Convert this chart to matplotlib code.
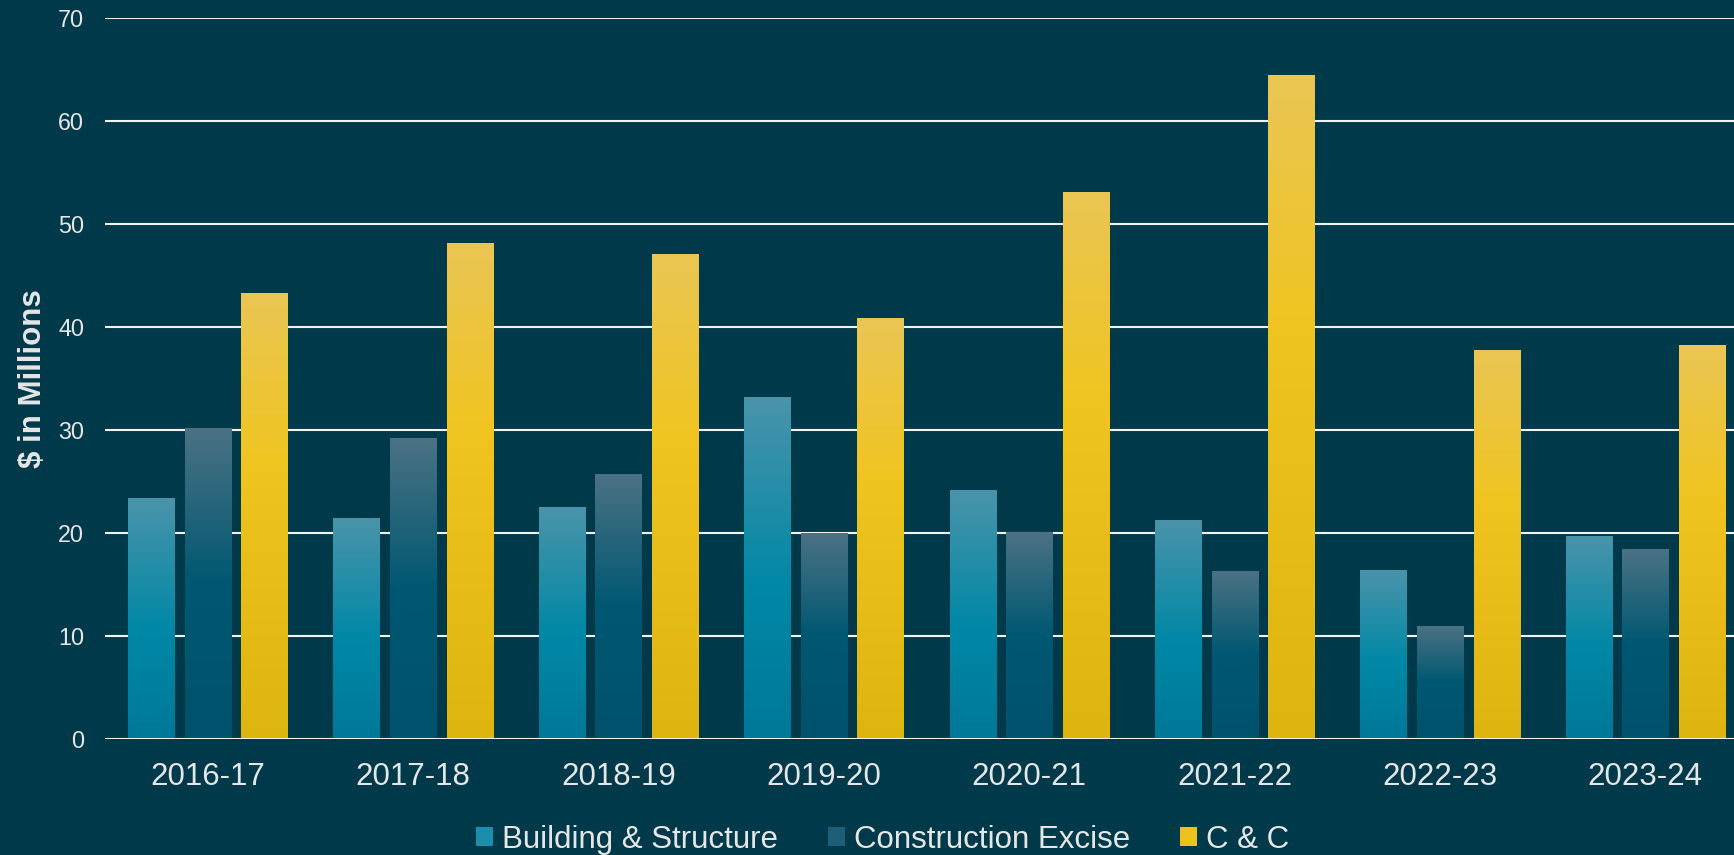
import numpy as np
import matplotlib
matplotlib.use("Agg")
import matplotlib.pyplot as plt
from matplotlib.colors import LinearSegmentedColormap
from matplotlib.patches import Patch

plt.rcParams['font.family'] = ['Liberation Sans', 'DejaVu Sans']

years = ["2016-17", "2017-18", "2018-19", "2019-20", "2020-21", "2021-22", "2022-23", "2023-24"]
building_structure = [23.4, 21.4, 22.5, 33.2, 24.2, 21.2, 16.4, 19.7]
construction_excise = [30.2, 29.2, 25.7, 20.0, 20.1, 16.3, 10.9, 18.4]
c_and_c = [43.3, 48.2, 47.1, 40.9, 53.1, 64.5, 37.8, 38.2]

series_names = ["Building & Structure", "Construction Excise", "C & C"]
BG = "#003a4a"

# gradient stops (bottom -> top) for each series
grad_stops = [
    [(0.0, (0/255, 120/255, 152/255)), (0.45, (0/255, 136/255, 166/255)), (1.0, (74/255, 148/255, 170/255))],
    [(0.0, (0/255, 82/255, 108/255)), (0.5, (0/255, 88/255, 114/255)), (1.0, (76/255, 114/255, 132/255))],
    [(0.0, (222/255, 180/255, 14/255)), (0.6, (240/255, 196/255, 30/255)), (1.0, (234/255, 198/255, 84/255))],
]
legend_colors = ["#1a8eab", "#1d5f78", "#eec21e"]

fig = plt.figure(figsize=(17.34, 8.55), dpi=100, facecolor=BG)
ax = fig.add_axes([105/1734, 116.5/855, 1643/1734, 720.2/855])
ax.set_facecolor(BG)

x = np.arange(len(years))
offset = 0.276
width = 0.224
all_values = [building_structure, construction_excise, c_and_c]

grad = np.linspace(0, 1, 256).reshape(-1, 1)
for i, vals in enumerate(all_values):
    cmap = LinearSegmentedColormap.from_list(f"g{i}", grad_stops[i])
    bars = ax.bar(x + (i - 1) * offset, vals, width=width, color="none", edgecolor="none", zorder=3)
    for b in bars:
        x0, y0 = b.get_x(), b.get_y()
        w, h = b.get_width(), b.get_height()
        im = ax.imshow(grad, cmap=cmap, origin="lower", aspect="auto",
                       extent=[x0, x0 + w, y0, y0 + h], zorder=3)
        im.set_clip_path(b)

ax.set_xlim(-0.5, len(years) - 0.5)
ax.set_ylim(0, 70)
ax.set_yticks(range(0, 71, 10))
ax.set_xticks(x)
ax.set_xticklabels(years)

ax.set_axisbelow(True)
ax.yaxis.grid(True, color="#f2f2f2", linewidth=1.5, zorder=0)
for s in ax.spines.values():
    s.set_visible(False)

ax.tick_params(axis="y", length=0, labelsize=16.8, labelcolor="#e6e6e6", pad=15)
ax.tick_params(axis="x", length=0, labelsize=22.5, labelcolor="#e6e6e6", pad=17)

fig.text(33/1734, 1 - 379/855, "$ in Millions", rotation=90, ha="center", va="center",
         fontsize=22.5, fontweight="bold", color="#e6e6e6")

handles = [Patch(facecolor=c, edgecolor="none") for c in legend_colors]
leg = fig.legend(handles, series_names, loc="center", bbox_to_anchor=(0.509, 0.018), ncol=3,
                 frameon=False, fontsize=22.5, handlelength=0.55, handleheight=0.55,
                 handletextpad=0.28, columnspacing=1.6, labelcolor="#e6e6e6")

fig.savefig("out.png", dpi=100, facecolor=BG)
